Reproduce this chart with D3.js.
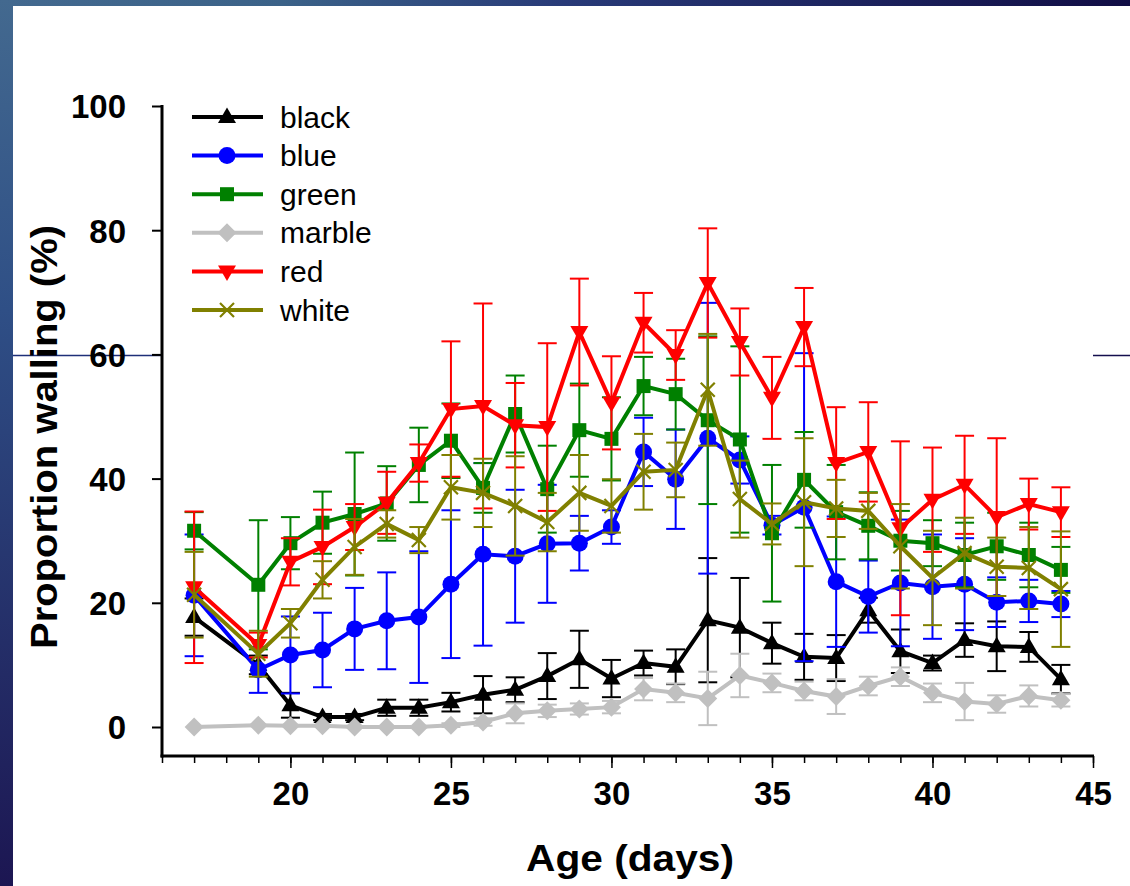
<!DOCTYPE html>
<html><head><meta charset="utf-8">
<script src="https://cdn.jsdelivr.net/npm/d3@7"></script>
<style>html,body{margin:0;padding:0;background:#fff;}svg{display:block;}</style>
</head><body>
<script>
const days = [17,19,20,21,22,23,24,25,26,27,28,29,30,31,32,33,34,35,36,37,38,39,40,41,42,43,44];
const blackVals  = [17.7,10,3.5,1.6,1.6,3.1,3.1,4.0,5.2,6.0,8.2,10.9,7.8,10.3,9.7,17.2,16,13.5,11.3,11.1,18.8,12.2,10.3,14,13,12.9,7.7];
const blackErr   = [3,1.5,2,0.5,0.5,1.3,1.3,1.5,3,2,3.7,4.6,3,2,2.8,10,8,3.3,3.7,3.7,2,3.5,1.2,2.7,4,2.4,2.3];
const blueVals   = [21.2,9.2,11.6,12.4,15.8,17.1,17.7,23,27.8,27.5,29.5,29.6,32.2,44.3,39.9,46.5,43,32.5,35.4,23.4,21,23.2,22.6,23,20.1,20.3,19.8];
const blueErr    = [9.8,3.7,6.2,6,6.6,7.8,10.6,11.9,14.7,10.7,9.5,4.4,2.7,5.5,8,21.8,3.8,1.5,24.8,10.5,5.8,10.2,8.4,7.4,4,3.4,2.1];
const greenVals  = [31.6,22.9,29.6,32.9,34.3,36,42.2,46.1,38.5,50.4,38.3,47.8,46.4,54.9,53.6,49.4,46.3,31.2,39.8,34.6,32.4,30,29.6,27.7,29.1,27.7,25.3];
const greenErr   = [3,10.4,4.2,5,9.9,6,6,6,4,6.2,7,7.5,6.7,4.7,5.7,13.5,15,11,7.7,7.6,5.4,4.8,3.7,5.2,5.4,5.2,3.7];
const marbleVals = [0,0.3,0.2,0.2,0,0,0,0.3,0.8,2.2,2.6,2.9,3.2,6.1,5.5,4.6,8.3,7.1,5.8,4.9,6.6,8.1,5.5,4.1,3.7,5,4.3];
const marbleErr  = [0,0,0,0,0,0,0,0.3,0.6,1.6,1,0.9,1,1.8,1.5,4.3,3.5,1.5,1.5,2.8,1.5,1.5,1.5,3,1.4,1.7,1];
const redVals    = [22.5,13.2,26.6,29,32.2,36.1,42.5,51.2,51.7,48.6,48.3,63.6,52.2,65.1,59.9,71.5,62,53,64.4,42.5,44.3,32,36.6,39,33.8,35.9,34.6];
const redErr     = [12.2,2,3.8,6,3.7,5,3,10.9,16.5,6.8,13.5,8.6,7.5,4.8,4,8.8,5.4,6.6,6.3,9,8,14,8.4,7.9,12.7,4.1,4];
const whiteVals  = [21.3,11.8,16.7,23.7,29,32.7,30.1,38.6,37.7,35.6,33,37.7,35.6,41.1,41.4,54.3,36.7,32.7,36.2,35.2,34.8,29.1,24,28,25.8,25.6,22.2];
const whiteErr   = [6.9,3.7,2.3,3,4.5,2.2,2.1,5.2,5.5,8,4.7,6.1,4.3,6.1,4.4,9,6.2,3.3,10.3,4.6,2.9,6.8,7.6,5.7,4.7,6.6,9.3];
const seriesNames = ["black","blue","green","marble","red","white"];
const yTicks = [0,20,40,60,80,100];
const xMajorTicks = [20,25,30,35,40,45];

const series = [
  {name:"black", vals:blackVals, err:blackErr, color:"#000000", marker:"triUp"},
  {name:"blue", vals:blueVals, err:blueErr, color:"#0000ff", marker:"circle"},
  {name:"green", vals:greenVals, err:greenErr, color:"#008000", marker:"square"},
  {name:"marble", vals:marbleVals, err:marbleErr, color:"#c0c0c0", marker:"diamond"},
  {name:"red", vals:redVals, err:redErr, color:"#ff0000", marker:"triDown"},
  {name:"white", vals:whiteVals, err:whiteErr, color:"#808000", marker:"cross"}
];

const W = 1130, H = 886;
const svg = d3.select("body").append("svg").attr("width", W).attr("height", H);
const defs = svg.append("defs");
const gTop = defs.append("linearGradient").attr("id","gTop").attr("x1","0").attr("x2","1").attr("y1","0").attr("y2","0");
gTop.append("stop").attr("offset","0").attr("stop-color","#43698f");
gTop.append("stop").attr("offset","0.25").attr("stop-color","#3b6288");
gTop.append("stop").attr("offset","0.5").attr("stop-color","#283a78");
gTop.append("stop").attr("offset","1").attr("stop-color","#110d45");
const gLeft = defs.append("linearGradient").attr("id","gLeft").attr("x1","0").attr("x2","0").attr("y1","0").attr("y2","1");
gLeft.append("stop").attr("offset","0").attr("stop-color","#43698f");
gLeft.append("stop").attr("offset","0.35").attr("stop-color","#2f4f86");
gLeft.append("stop").attr("offset","1").attr("stop-color","#1c1652");

svg.append("rect").attr("x",0).attr("y",0).attr("width",W).attr("height",H).attr("fill","#fff");
svg.append("rect").attr("x",0).attr("y",0).attr("width",W).attr("height",6).attr("fill","url(#gTop)");
svg.append("rect").attr("x",0).attr("y",0).attr("width",13).attr("height",H).attr("fill","url(#gLeft)");

const x = d3.scaleLinear().domain([16,45]).range([162,1093]);
const y = d3.scaleLinear().domain([0,100]).range([727,106]);
const axisY = 756;

// slide decoration lines
svg.append("line").attr("x1",13).attr("x2",162).attr("y1",355.5).attr("y2",355.5).attr("stroke","#1e2f78").attr("stroke-width",1.3);
svg.append("line").attr("x1",1093).attr("x2",W).attr("y1",355.5).attr("y2",355.5).attr("stroke","#140f4e").attr("stroke-width",1.3);

// axes
const yAxis = d3.axisLeft(y).tickValues(yTicks).tickSize(10).tickPadding(26).tickFormat(d3.format("d"));
const gy = svg.append("g").attr("transform","translate(162,0)").call(yAxis);
gy.select(".domain").remove();
gy.selectAll(".tick line").attr("stroke","#000").attr("stroke-width",2);
gy.selectAll(".tick text").attr("font-family","Liberation Sans, Arial, sans-serif").attr("font-weight","bold").attr("font-size",33).attr("fill","#000").attr("dy","0.36em");
svg.append("line").attr("x1",162).attr("x2",162).attr("y1",y(100)-1).attr("y2",axisY+1.5).attr("stroke","#000").attr("stroke-width",3);

const xMinor = d3.range(16,46);
const gxMinor = svg.append("g").attr("transform",`translate(0,${axisY})`).call(d3.axisBottom(x).tickValues(xMinor).tickSize(7).tickFormat(""));
gxMinor.select(".domain").remove();
gxMinor.selectAll(".tick line").attr("stroke","#000").attr("stroke-width",1.5);
const gx = svg.append("g").attr("transform",`translate(0,${axisY})`).call(d3.axisBottom(x).tickValues(xMajorTicks).tickSize(12).tickPadding(14).tickFormat(d3.format("d")));
gx.select(".domain").remove();
gx.selectAll(".tick line").attr("stroke","#000").attr("stroke-width",1.5);
gx.selectAll(".tick text").attr("font-family","Liberation Sans, Arial, sans-serif").attr("font-weight","bold").attr("font-size",33).attr("fill","#000").attr("dy","0.71em");
svg.append("line").attr("x1",160.5).attr("x2",1094).attr("y1",axisY).attr("y2",axisY).attr("stroke","#000").attr("stroke-width",3);

// titles
svg.append("text").attr("x",630).attr("y",871).attr("text-anchor","middle")
  .attr("font-family","Liberation Sans, Arial, sans-serif").attr("font-weight","bold").attr("font-size",37)
  .attr("textLength",208).attr("lengthAdjust","spacingAndGlyphs").text("Age (days)");
svg.append("text").attr("transform","translate(57,437) rotate(-90)").attr("text-anchor","middle")
  .attr("font-family","Liberation Sans, Arial, sans-serif").attr("font-weight","bold").attr("font-size",37)
  .attr("textLength",424).attr("lengthAdjust","spacingAndGlyphs").text("Proportion walling (%)");

function markerPath(type){
  switch(type){
    case "triUp": return "M0,-9.5L9,6L-9,6Z";
    case "triDown": return "M0,9.5L9,-6L-9,-6Z";
    case "circle": return d3.symbol(d3.symbolCircle, Math.PI*8.5*8.5)();
    case "square": return "M-7,-7H7V7H-7Z";
    case "diamond": return "M0,-9.5L9.5,0L0,9.5L-9.5,0Z";
    case "cross": return "M-7,-7L7,7M7,-7L-7,7";
  }
}
function drawMarker(g, type, color){
  const p = g.append("path").attr("d", markerPath(type));
  if(type==="cross") p.attr("fill","none").attr("stroke",color).attr("stroke-width",2.2);
  else p.attr("fill",color).attr("stroke","none");
}

const line = d3.line().x(d=>x(d[0])).y(d=>y(d[1]));
series.forEach(s=>{
  const g = svg.append("g");
  const pts = days.map((d,i)=>[d, s.vals[i], s.err[i]]);
  // error bars
  pts.forEach(p=>{
    if(p[2] <= 0) return;
    const cx = x(p[0]), y1 = y(p[1]+p[2]), y2 = y(p[1]-p[2]);
    g.append("line").attr("x1",cx).attr("x2",cx).attr("y1",y1).attr("y2",y2).attr("stroke",s.color).attr("stroke-width",2);
    g.append("line").attr("x1",cx-9.5).attr("x2",cx+9.5).attr("y1",y1).attr("y2",y1).attr("stroke",s.color).attr("stroke-width",2);
    g.append("line").attr("x1",cx-9.5).attr("x2",cx+9.5).attr("y1",y2).attr("y2",y2).attr("stroke",s.color).attr("stroke-width",2);
  });
  g.append("path").attr("d", line(pts)).attr("fill","none").attr("stroke",s.color).attr("stroke-width",4).attr("stroke-linejoin","miter");
  pts.forEach(p=>{
    const m = g.append("g").attr("transform",`translate(${x(p[0])},${y(p[1])})`);
    drawMarker(m, s.marker, s.color);
  });
});

// legend
const legend = svg.append("g");
seriesNames.forEach((name,i)=>{
  const s = series.find(q=>q.name===name);
  const ly = 117 + i*38.6;
  legend.append("line").attr("x1",192).attr("x2",263).attr("y1",ly).attr("y2",ly).attr("stroke",s.color).attr("stroke-width",4);
  const m = legend.append("g").attr("transform",`translate(227,${ly})`);
  drawMarker(m, s.marker, s.color);
  legend.append("text").attr("x",280).attr("y",ly).attr("dy","0.35em")
    .attr("font-family","Liberation Sans, Arial, sans-serif").attr("font-size",30).attr("fill","#000").text(name);
});
</script>
</body></html>
